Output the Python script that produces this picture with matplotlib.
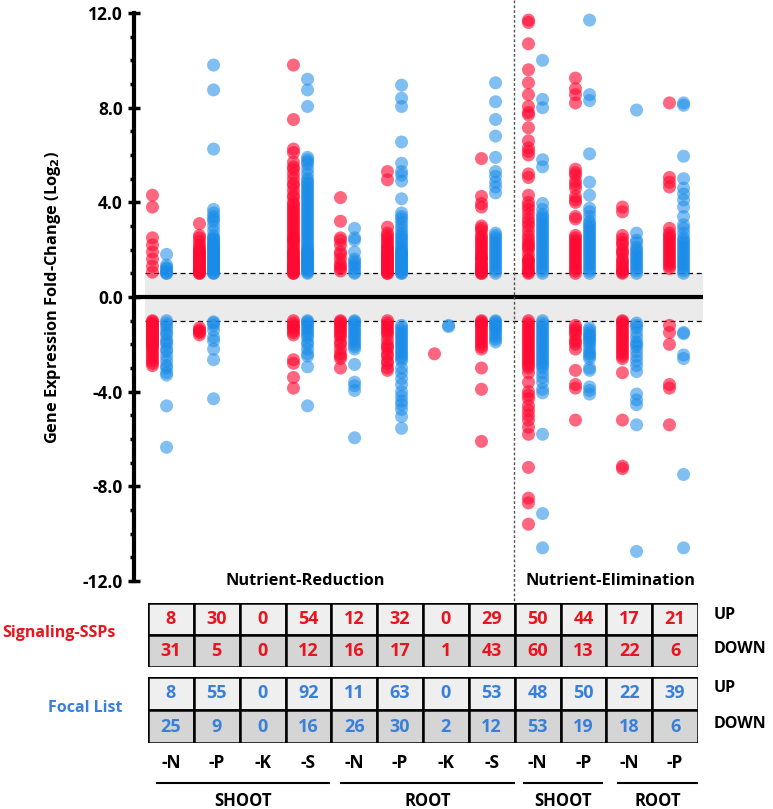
import numpy as np
import matplotlib.pyplot as plt
from matplotlib.lines import Line2D

plt.rcParams['font.family'] = ['Open Sans', 'DejaVu Sans']
plt.rcParams['font.weight'] = 'bold'
plt.rcParams['mathtext.default'] = 'bf'

W, H = 773, 809

conditions = ['-N', '-P', '-K', '-S', '-N', '-P', '-K', '-S', '-N', '-P', '-N', '-P']
groups = ['SHOOT', 'ROOT', 'SHOOT', 'ROOT']

ssp_up_count = [8, 30, 0, 54, 12, 32, 0, 29, 50, 44, 17, 21]
ssp_down_count = [31, 5, 0, 12, 16, 17, 1, 43, 60, 13, 22, 6]
focal_up_count = [8, 55, 0, 92, 11, 63, 0, 53, 48, 50, 22, 39]
focal_down_count = [25, 9, 0, 16, 26, 30, 2, 12, 53, 19, 18, 6]

# log2 fold-change of each gene, one list per condition
ssp_up = [
    [4.3, 3.8, 2.5, 2.2, 1.9, 1.6, 1.3, 1.05],
    [3.1, 2.6, 2.5, 2.35, 2.2, 2.1, 2.0, 1.95, 1.9, 1.8, 1.75, 1.7, 1.6, 1.55, 1.5,
     1.45, 1.4, 1.35, 1.3, 1.25, 1.2, 1.15, 1.1, 1.1, 1.05, 1.05, 1.0, 1.0, 1.65, 1.85],
    [],
    [9.8, 7.5, 6.25, 6.1, 5.7, 5.5, 5.4, 5.2, 5.0, 4.8, 4.7, 4.5, 4.3, 4.2, 4.0, 3.9, 3.8,
     3.7, 3.6, 3.5, 3.4, 3.3, 3.2, 3.1, 3.0, 2.9, 2.8, 2.7, 2.6, 2.5, 2.4, 2.3, 2.2, 2.1,
     2.0, 1.9, 1.85, 1.8, 1.7, 1.65, 1.6, 1.5, 1.45, 1.4, 1.35, 1.3, 1.25, 1.2, 1.15, 1.1,
     1.05, 1.0, 1.0, 2.45],
    [4.2, 3.2, 2.5, 2.4, 2.2, 1.9, 1.8, 1.6, 1.4, 1.3, 1.2, 1.1],
    [5.3, 4.95, 2.95, 2.7, 2.6, 2.5, 2.4, 2.3, 2.2, 2.1, 2.0, 1.9, 1.85, 1.8, 1.7, 1.6,
     1.55, 1.5, 1.45, 1.4, 1.35, 1.3, 1.25, 1.2, 1.15, 1.1, 1.05, 1.0, 1.0, 1.75, 2.05, 1.65],
    [],
    [5.85, 4.25, 3.95, 3.8, 3.0, 2.9, 2.8, 2.6, 2.5, 2.4, 2.3, 2.1, 2.0, 1.9, 1.8, 1.7,
     1.6, 1.5, 1.4, 1.3, 1.2, 1.1, 1.05, 1.0, 1.0, 2.2, 1.65, 1.35, 1.15],
    [11.7, 11.6, 10.7, 9.6, 9.05, 8.55, 8.05, 7.8, 7.7, 7.15, 6.6, 6.3, 6.15, 6.0, 5.2,
     5.05, 4.3, 4.0, 3.85, 3.7, 3.5, 3.3, 3.15, 3.0, 2.8, 2.6, 2.45, 2.3, 2.2, 2.1, 2.0,
     1.8, 1.6, 1.55, 1.5, 1.4, 1.3, 1.2, 1.1, 1.05, 1.0],
    [9.25, 8.8, 8.55, 8.2, 5.4, 5.25, 5.15, 4.9, 4.75, 4.6, 4.25, 4.1, 4.0, 3.4, 3.3, 2.6,
     2.5, 2.4, 2.3, 2.2, 2.1, 2.0, 1.9, 1.8, 1.7, 1.6, 1.5, 1.4, 1.3, 1.2, 1.1, 1.0],
    [3.8, 3.6, 2.6, 2.45, 2.3, 2.2, 2.0, 1.9, 1.8, 1.6, 1.5, 1.4, 1.3, 1.2, 1.1, 1.05, 1.0],
    [8.2, 5.05, 4.85, 4.65, 2.9, 2.7, 2.6, 2.5, 2.4, 2.3, 2.2, 2.1, 2.0, 1.9, 1.8, 1.7,
     1.6, 1.5, 1.4, 1.3, 1.2],
]
focal_up = [
    [1.8, 1.35, 1.25, 1.2, 1.1, 1.05, 1.0, 1.0],
    [9.8, 8.75, 6.25, 3.7, 3.55, 3.4, 3.3, 3.2, 3.0, 2.8, 2.6, 2.5, 2.45, 2.4, 2.3, 2.25,
     2.2, 2.15, 2.1, 2.05, 2.0, 1.95, 1.9, 1.85, 1.8, 1.75, 1.7, 1.65, 1.6, 1.55, 1.5,
     1.45, 1.4, 1.35, 1.3, 1.25, 1.2, 1.15, 1.1, 1.05, 1.0, 1.0],
    [],
    [9.2, 8.75, 8.05, 5.9, 5.8, 5.7, 5.6, 5.4, 5.2, 5.0, 4.9, 4.8, 4.7, 4.6, 4.5, 4.4,
     4.3, 4.2, 4.1, 4.0, 3.9, 3.8, 3.7, 3.6, 3.5, 3.4, 3.3, 3.2, 3.1, 3.0, 2.9, 2.8, 2.7,
     2.6, 2.5, 2.4, 2.3, 2.2, 2.1, 2.0, 1.95, 1.9, 1.85, 1.8, 1.75, 1.7, 1.65, 1.6, 1.55,
     1.5, 1.45, 1.4, 1.35, 1.3, 1.25, 1.2, 1.15, 1.1, 1.05, 1.0],
    [2.9, 2.5, 2.4, 1.9, 1.6, 1.5, 1.4, 1.3, 1.2, 1.05, 1.0],
    [8.95, 8.4, 8.05, 6.55, 5.65, 5.3, 5.15, 4.9, 4.15, 3.55, 3.4, 3.3, 3.15, 3.0, 2.85,
     2.7, 2.6, 2.5, 2.4, 2.3, 2.2, 2.1, 2.0, 1.95, 1.9, 1.85, 1.8, 1.75, 1.7, 1.65, 1.6,
     1.55, 1.5, 1.45, 1.4, 1.35, 1.3, 1.25, 1.2, 1.15, 1.1, 1.05, 1.0, 1.0],
    [],
    [9.05, 8.25, 7.5, 6.8, 5.9, 5.3, 5.1, 4.85, 4.65, 4.4, 2.7, 2.6, 2.5, 2.4, 2.3, 2.2,
     2.1, 2.0, 1.9, 1.8, 1.7, 1.6, 1.5, 1.4, 1.3, 1.2, 1.1, 1.0],
    [10.0, 8.35, 8.0, 5.8, 5.5, 3.95, 3.7, 3.5, 3.4, 3.3, 3.2, 3.1, 3.0, 2.9, 2.8, 2.7,
     2.6, 2.5, 2.4, 2.3, 2.2, 2.1, 2.0, 1.9, 1.8, 1.7, 1.6, 1.5, 1.4, 1.3, 1.2, 1.1, 1.0],
    [11.7, 8.55, 8.3, 6.05, 4.85, 4.3, 3.75, 3.6, 3.4, 3.2, 3.1, 3.0, 2.9, 2.8, 2.7, 2.6,
     2.5, 2.4, 2.3, 2.2, 2.1, 2.0, 1.9, 1.8, 1.7, 1.6, 1.5, 1.4, 1.3, 1.2, 1.1, 1.0],
    [7.9, 2.7, 2.4, 2.3, 2.1, 2.0, 1.9, 1.8, 1.7, 1.6, 1.5, 1.4, 1.3, 1.2, 1.1, 1.0],
    [8.2, 8.1, 5.95, 5.0, 4.6, 4.35, 4.1, 3.8, 3.4, 3.05, 2.9, 2.7, 2.5, 2.4, 2.3, 2.2,
     2.1, 2.0, 1.9, 1.8, 1.7, 1.6, 1.5, 1.4, 1.3, 1.2, 1.1, 1.0],
]
ssp_down = [
    [-1.0, -1.1, -1.2, -1.3, -1.4, -1.5, -1.6, -1.7, -1.8, -1.9, -2.0, -2.1, -2.2, -2.3,
     -2.5, -2.7, -2.9, -1.05, -1.15, -1.25, -1.35, -1.45, -1.55, -1.65, -1.75, -1.85,
     -1.95, -2.05, -2.4, -2.6, -2.8],
    [-1.3, -1.4, -1.45, -1.5, -1.6],
    [],
    [-1.0, -1.1, -1.2, -1.3, -1.4, -1.5, -1.6, -2.65, -2.8, -3.4, -3.85, -1.25],
    [-1.0, -1.1, -1.2, -1.3, -1.4, -1.5, -1.7, -1.9, -2.0, -2.2, -2.4, -2.6, -3.0, -1.05,
     -1.6, -2.5],
    [-1.0, -1.1, -1.2, -1.3, -1.4, -1.5, -1.6, -1.8, -2.0, -2.1, -2.2, -2.4, -2.5, -2.7,
     -2.8, -3.0, -3.1],
    [-2.4],
    [-1.0, -1.05, -1.1, -1.15, -1.2, -1.3, -1.4, -1.5, -1.6, -1.7, -1.8, -1.9, -2.0, -2.1,
     -2.2, -3.0, -3.9, -6.1],
    [-1.0, -1.1, -1.2, -1.3, -1.4, -1.5, -1.6, -1.7, -1.8, -1.9, -2.0, -2.1, -2.2, -2.3,
     -2.4, -2.5, -2.6, -2.7, -2.8, -2.9, -3.0, -3.2, -3.6, -4.0, -4.15, -4.3, -4.6, -4.8,
     -5.0, -5.2, -5.5, -5.8, -7.2, -8.5, -8.7, -9.6],
    [-1.2, -1.4, -1.6, -1.8, -2.0, -2.2, -3.1, -3.7, -3.85, -5.2, -1.3, -1.5, -1.9],
    [-1.0, -1.1, -1.2, -1.3, -1.4, -1.5, -1.6, -1.7, -1.8, -1.9, -2.0, -2.1, -2.2, -2.3,
     -2.4, -2.5, -2.6, -3.2, -5.2, -7.15, -7.25, -1.05],
    [-1.2, -1.5, -2.0, -3.7, -3.85, -5.4],
]
focal_down = [
    [-1.0, -1.1, -1.2, -1.35, -1.5, -1.6, -1.8, -1.9, -2.0, -2.2, -2.3, -2.5, -2.7, -2.9,
     -3.0, -3.2, -3.3, -4.6, -6.35],
    [-1.05, -1.2, -1.4, -1.7, -1.85, -2.2, -2.65, -4.3, -1.1],
    [],
    [-1.0, -1.1, -1.2, -1.3, -1.5, -1.7, -1.9, -2.0, -2.2, -2.4, -2.5, -2.95, -4.6, -1.05,
     -1.4, -1.6],
    [-1.0, -1.05, -1.1, -1.2, -1.3, -1.4, -1.5, -1.6, -1.7, -1.8, -1.9, -2.0, -2.1, -2.2,
     -2.85, -3.6, -3.75, -3.95, -5.95],
    [-1.2, -1.3, -1.4, -1.5, -1.6, -1.7, -1.8, -1.9, -2.0, -2.1, -2.2, -2.3, -2.4, -2.5,
     -2.6, -2.7, -3.0, -3.2, -3.45, -3.7, -4.0, -4.2, -4.4, -4.55, -4.75, -5.05, -5.55],
    [-1.2, -1.25],
    [-1.0, -1.1, -1.2, -1.3, -1.4, -1.5, -1.6, -1.7, -1.8, -1.9, -1.05, -1.25],
    [-1.0, -1.1, -1.2, -1.3, -1.4, -1.5, -1.6, -1.7, -1.8, -1.9, -2.0, -2.1, -2.2, -2.3,
     -2.4, -2.5, -2.6, -2.7, -2.8, -2.9, -3.0, -3.2, -3.4, -3.6, -3.9, -4.05, -5.8,
     -9.15, -10.6],
    [-1.3, -1.5, -1.6, -1.75, -1.9, -2.0, -2.15, -2.3, -2.5, -2.6, -3.1, -3.8, -3.95,
     -4.1, -1.4, -1.8, -2.4, -3.0, -1.65],
    [-1.1, -1.3, -1.5, -1.7, -1.9, -2.1, -2.3, -2.5, -2.7, -2.9, -3.15, -4.1, -4.35,
     -4.55, -5.4, -10.75, -1.2, -2.0],
    [-1.5, -2.45, -2.6, -7.5, -10.6, -1.55],
]

red = '#ff0a32'
blue = '#1a8ce8'
red_txt = '#e8141e'
blue_txt = '#3a80d8'


def fx(px):
    return px / W


def fy(py):
    return 1 - py / H


fig = plt.figure(figsize=(W / 100, H / 100), dpi=100)

# main dot plot
ax = fig.add_axes([fx(134), fy(581), (705 - 134) / W, (581 - 13) / H])
ax.set_xlim(-0.543, 11.606)
ax.set_ylim(-12, 12)

ax.fill_between([-0.31, 11.56], -1, 1, color='#ebebeb', lw=0, zorder=0)
ax.plot([-0.31, 11.56], [1, 1], color='black', lw=0.9, ls=(0, (4, 3)), zorder=1)
ax.plot([-0.31, 11.56], [-1, -1], color='black', lw=0.9, ls=(0, (4, 3)), zorder=1)
ax.plot([-0.543, 11.56], [0, 0], color='black', lw=3, zorder=1, solid_capstyle='butt')

xpos = np.arange(len(conditions))
for i in xpos:
    for vals, dx, c, a in [(ssp_up[i], -0.15, red, 0.62), (ssp_down[i], -0.15, red, 0.62),
                           (focal_up[i], 0.15, blue, 0.55), (focal_down[i], 0.15, blue, 0.55)]:
        if len(vals) == 0:
            continue
        ax.scatter(np.full(len(vals), i + dx), vals, s=88, color=c, alpha=a,
                   edgecolors='none', zorder=3)

for side in ['top', 'right', 'bottom']:
    ax.spines[side].set_visible(False)
ax.spines['left'].set_linewidth(3)
ax.set_xticks([])
ax.set_yticks(np.arange(-12, 13, 4))
ax.set_yticklabels(['%.1f' % v for v in np.arange(-12, 13, 4)])
ax.set_yticks(np.arange(-12, 13, 1), minor=True)
ax.tick_params(axis='y', which='major', direction='inout', length=8, width=2.5,
               labelsize=12.5, pad=4)
ax.tick_params(axis='y', which='minor', direction='out', length=3, width=2.5)
ax.set_ylabel('Gene Expression Fold-Change (Log$_2$)', fontsize=11.8,
              fontweight='bold', labelpad=14)

ax.text(3.1, -12, 'Nutrient-Reduction', ha='center', va='center', fontsize=11.8)
ax.text(9.6, -12, 'Nutrient-Elimination', ha='center', va='center', fontsize=11.8)

# dotted separator between reduction and elimination
fig.add_artist(Line2D([fx(514), fx(514)], [fy(0), fy(603)], color='#555555', lw=1,
                      ls=(0, (2, 1.5))))

# count tables
cols = np.arange(12) + 0.5


def draw_table(top_px, bot_px, up, down, tcolor):
    t = fig.add_axes([fx(148), fy(bot_px), (698 - 148) / W, (bot_px - top_px) / H])
    t.set_xlim(0, 12)
    t.set_ylim(0, 2)
    t.bar(cols, 1, bottom=1, width=1, color='#efefef', edgecolor='black', lw=1.8)
    t.bar(cols, 1, bottom=0, width=1, color='#d5d5d5', edgecolor='black', lw=1.8)
    for x, u, d in zip(cols, up, down):
        t.text(x, 1.5, str(u), ha='center', va='center', color=tcolor, fontsize=13)
        t.text(x, 0.5, str(d), ha='center', va='center', color=tcolor, fontsize=13)
    t.axis('off')
    return t


draw_table(603, 667, ssp_up_count, ssp_down_count, red_txt)
draw_table(677, 743, focal_up_count, focal_down_count, blue_txt)

fig.text(fx(59), fy(633), 'Signaling-SSPs', color=red_txt, fontsize=11.5, ha='center', va='center')
fig.text(fx(85), fy(708), 'Focal List', color=blue_txt, fontsize=11.5, ha='center', va='center')
for y, lab in [(615, 'UP'), (649, 'DOWN'), (688, 'UP'), (724, 'DOWN')]:
    fig.text(fx(714), fy(y), lab, fontsize=11.5, ha='left', va='center')

for x, lab in zip(cols, conditions):
    fig.text(fx(148 + x * (698 - 148) / 12), fy(763), lab, fontsize=12.5, ha='center', va='center')

spans = [(157, 329), (341, 514), (524, 602), (618, 697)]
for (x0, x1), g in zip(spans, groups):
    fig.add_artist(Line2D([fx(x0), fx(x1)], [fy(783), fy(783)], color='black', lw=1.5))
    fig.text(fx((x0 + x1) / 2), fy(801), g, fontsize=12, ha='center', va='center')

fig.savefig('out.png', dpi=100)
